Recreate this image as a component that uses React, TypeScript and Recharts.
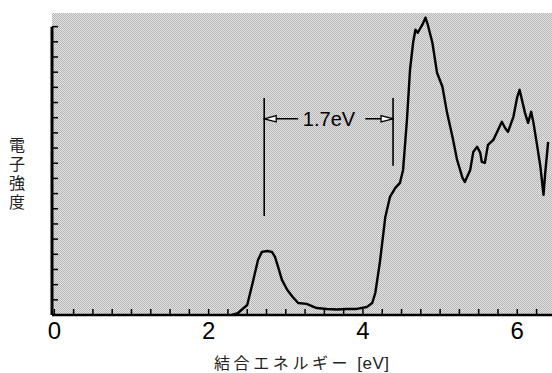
import {
  LineChart,
  Line,
  XAxis,
  YAxis,
  CartesianGrid,
  ReferenceLine,
  ReferenceDot,
} from 'recharts'

// binding energy (eV) and electron intensity
const energy = [
  2.3, 2.38, 2.5, 2.57, 2.64, 2.69, 2.76, 2.82, 2.86, 2.9, 2.95, 3.02, 3.09, 3.16, 3.27, 3.4,
  3.53, 3.66, 3.79, 3.92, 4.05, 4.12, 4.16, 4.22, 4.29, 4.35, 4.42, 4.48, 4.52, 4.57, 4.61,
  4.65, 4.68, 4.71, 4.77, 4.81, 4.84, 4.9, 4.96, 5.03, 5.09, 5.16, 5.22, 5.29, 5.32, 5.39,
  5.43, 5.48, 5.52, 5.54, 5.58, 5.62, 5.69, 5.74, 5.8, 5.84, 5.88, 5.95, 6.0, 6.03, 6.06,
  6.1, 6.14, 6.18, 6.21, 6.26, 6.3, 6.34, 6.36, 6.4,
]
const intensity = [
  0, 0.13, 0.66, 2.11, 3.63, 4.16, 4.22, 4.16, 3.83, 3.17, 2.31, 1.65, 1.19, 0.79, 0.73, 0.46,
  0.4, 0.36, 0.4, 0.4, 0.53, 0.79, 1.45, 3.5, 6.46, 7.78, 8.38, 8.71, 9.56, 12.86, 16.16,
  17.94, 18.8, 18.6, 19.13, 19.59, 19.13, 17.94, 15.96, 15.04, 13.32, 11.74, 10.22, 9.04, 8.77,
  9.56, 10.75, 11.08, 10.69, 10.09, 10.03, 11.21, 11.54, 12.07, 12.73, 12.34, 12.07, 13.06,
  14.38, 14.84, 14.18, 13.32, 12.66, 13.39, 12.66, 11.08, 9.76, 7.92, 9.23, 11.41,
]

const xTicks = [
  0, 0.25, 0.5, 0.75, 1, 1.25, 1.5, 1.75, 2, 2.25, 2.5, 2.75, 3, 3.25, 3.5, 3.75, 4, 4.25,
  4.5, 4.75, 5, 5.25, 5.5, 5.75, 6, 6.25,
]
const xLabels = [0, 2, 4, 6]
const yTicks = [0, 1, 2, 3, 4, 5, 6, 7, 8, 9, 10, 11, 12, 13, 14, 15, 16, 17, 18, 19]

// 1.7 eV gap annotation
const gapLeft = 2.72
const gapRight = 4.39
const gapLeftTop = 14.3
const gapLeftBottom = 6.53
const gapRightBottom = 9.83
const arrowY = 12.93
const arrowLeftTail = 3.16
const arrowRightTail = 4.03
const gapLabel = '1.7eV'
const gapLabelX = 3.56

const X_MIN = -0.03
const X_MAX = 6.45
const Y_MAX = 19.9

const data = energy.map((e, i) => ({ e, v: intensity[i] }))

const XTick = (props: any) => {
  const { x, y, payload } = props
  const showLabel = xLabels.includes(payload.value)
  return (
    <g>
      <line x1={x} y1={y} x2={x} y2={y - 6} stroke="#000" strokeWidth={1.5} />
      {showLabel && (
        <text
          x={x}
          y={y + 24}
          textAnchor="middle"
          fontSize={24}
          fontFamily="'Liberation Sans', Arial, sans-serif"
          fill="#000"
        >
          {payload.value}
        </text>
      )}
    </g>
  )
}

const YTick = (props: any) => {
  const { x, y } = props
  return <line x1={x} y1={y} x2={x + 6} y2={y} stroke="#000" strokeWidth={1.5} />
}

const ArrowShape = (props: any) => {
  const { x1, y1, x2, y2 } = props
  return (
    <line
      x1={x1}
      y1={y1}
      x2={x2}
      y2={y2}
      stroke="#000"
      strokeWidth={1.5}
      markerEnd="url(#hollowArrow)"
    />
  )
}

export default function App() {
  return (
    <div
      style={{
        position: 'absolute',
        left: 0,
        top: 0,
        width: 552,
        height: 373,
        background: '#fff',
      }}
    >
      <LineChart
        width={552}
        height={373}
        data={data}
        margin={{ top: 13, right: 0, left: 51, bottom: 57 }}
      >
        <defs>
          <pattern id="dither" width="2" height="2" patternUnits="userSpaceOnUse">
            <rect width="2" height="2" fill="#e4e4e4" />
            <rect width="1" height="1" fill="#b4b4b4" />
            <rect x="1" y="1" width="1" height="1" fill="#b4b4b4" />
          </pattern>
          <marker
            id="hollowArrow"
            markerWidth="14"
            markerHeight="10"
            refX="13"
            refY="5"
            orient="auto"
            markerUnits="userSpaceOnUse"
          >
            <path d="M1,1.8 L13,5 L1,8.2 Z" fill="#fff" stroke="#000" strokeWidth="1.3" />
          </marker>
        </defs>
        <CartesianGrid horizontal={false} vertical={false} fill="url(#dither)" />
        <XAxis
          dataKey="e"
          type="number"
          domain={[X_MIN, X_MAX]}
          ticks={xTicks}
          allowDataOverflow
          interval={0}
          height={1}
          tickSize={0}
          tickMargin={0}
          tickLine={false}
          tick={<XTick />}
          axisLine={{ stroke: '#000', strokeWidth: 2.5 }}
        />
        <YAxis
          type="number"
          domain={[0, Y_MAX]}
          ticks={yTicks}
          allowDataOverflow
          interval={0}
          width={1}
          tickSize={0}
          tickMargin={0}
          tickLine={false}
          tick={<YTick />}
          axisLine={false}
        />
        <ReferenceLine
          segment={[
            { x: X_MIN, y: 0 },
            { x: X_MIN, y: yTicks[yTicks.length - 1] },
          ]}
          stroke="#000"
          strokeWidth={3}
        />
        <ReferenceLine
          segment={[
            { x: gapLeft, y: gapLeftBottom },
            { x: gapLeft, y: gapLeftTop },
          ]}
          stroke="#000"
          strokeWidth={1.6}
        />
        <ReferenceLine
          segment={[
            { x: gapRight, y: gapRightBottom },
            { x: gapRight, y: gapLeftTop },
          ]}
          stroke="#000"
          strokeWidth={1.6}
        />
        <ReferenceLine
          segment={[
            { x: arrowLeftTail, y: arrowY },
            { x: gapLeft, y: arrowY },
          ]}
          shape={<ArrowShape />}
        />
        <ReferenceLine
          segment={[
            { x: arrowRightTail, y: arrowY },
            { x: gapRight, y: arrowY },
          ]}
          shape={<ArrowShape />}
        />
        <ReferenceDot
          x={gapLabelX}
          y={arrowY}
          r={0}
          stroke="none"
          fill="none"
          label={{
            value: gapLabel,
            position: 'center',
            fontSize: 20,
            fill: '#000',
            fontFamily: "'Liberation Sans', Arial, sans-serif",
          }}
        />
        <Line
          type="linear"
          dataKey="v"
          stroke="#000"
          strokeWidth={2.4}
          dot={false}
          activeDot={false}
          isAnimationActive={false}
          strokeLinejoin="round"
        />
      </LineChart>
      <div
        style={{
          position: 'absolute',
          left: 9,
          top: 137,
          writingMode: 'vertical-rl',
          fontSize: 16,
          letterSpacing: 3,
          fontFamily: "'Noto Sans CJK JP', sans-serif",
          color: '#222',
          lineHeight: 1,
        }}
      >
        電子強度
      </div>
      <div
        style={{
          position: 'absolute',
          left: 214,
          top: 353,
          fontSize: 16,
          fontFamily: "'Noto Sans CJK JP', sans-serif",
          color: '#222',
          lineHeight: 1.2,
          whiteSpace: 'nowrap',
        }}
      >
        <span style={{ letterSpacing: 3.6 }}>結合エネルギー</span>
        <span style={{ marginLeft: 6, letterSpacing: 0.5, fontFamily: "'Liberation Sans', Arial, sans-serif", fontSize: 17 }}>
          [eV]
        </span>
      </div>
    </div>
  )
}
